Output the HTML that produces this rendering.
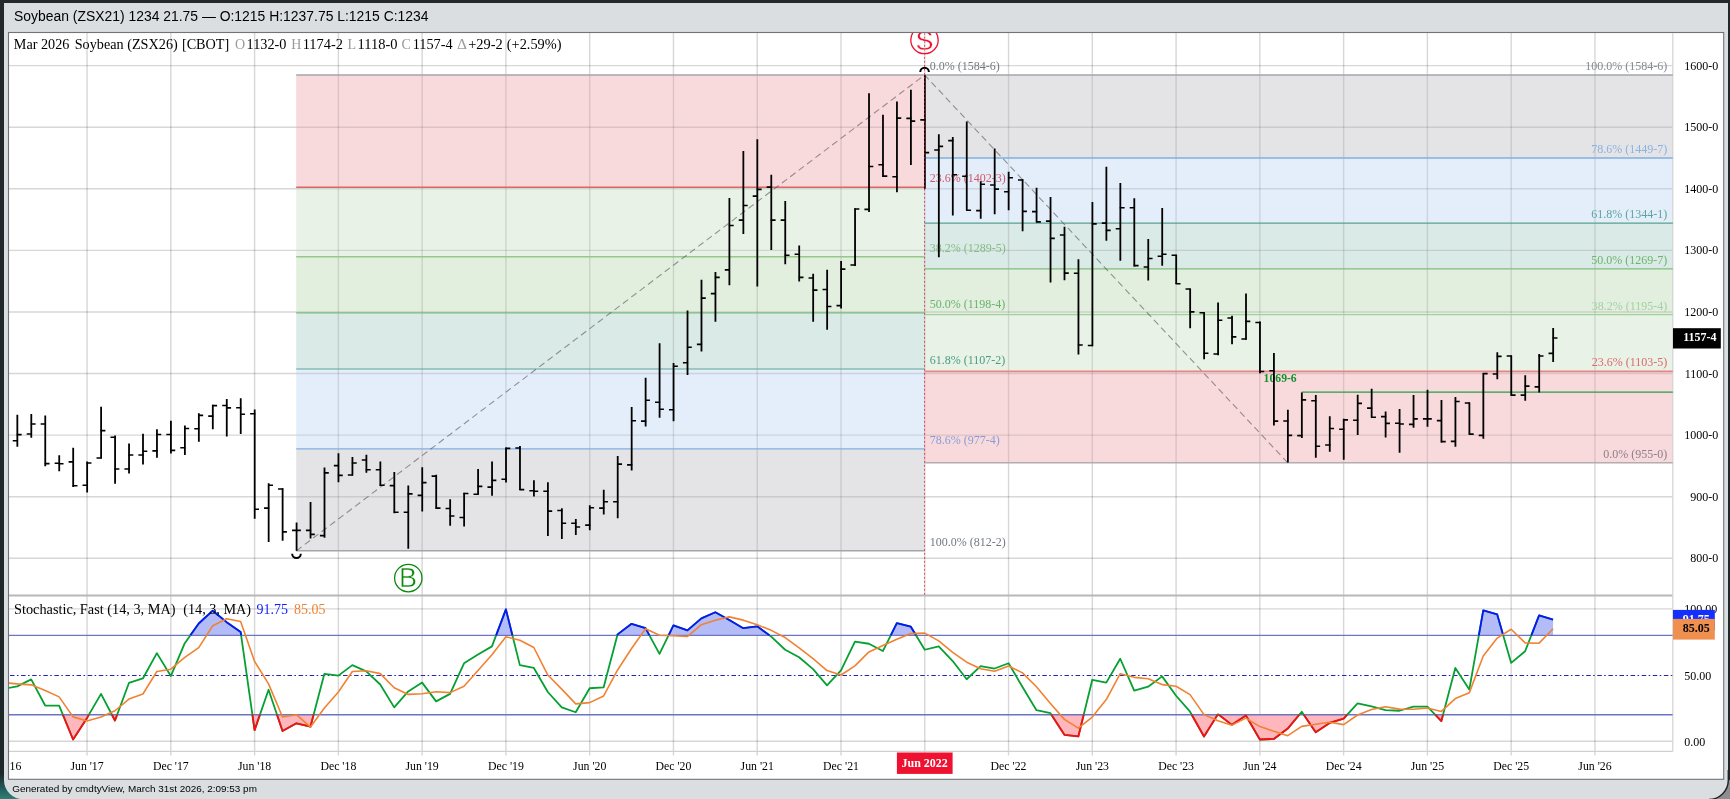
<!DOCTYPE html>
<html lang="en"><head><meta charset="utf-8"><title>Soybean (ZSX26) chart</title>
<style>html,body{margin:0;padding:0;background:#23282b;width:1730px;height:799px;overflow:hidden}</style></head>
<body>
<svg width="1730" height="799" viewBox="0 0 1730 799" style="position:absolute;left:0;top:0;display:block;will-change:transform">
<defs><linearGradient id="lg" x1="0" y1="0" x2="0" y2="1"><stop offset="0" stop-color="#23282b"/><stop offset="0.968" stop-color="#1e2729"/><stop offset="0.988" stop-color="#23605c"/><stop offset="1" stop-color="#2f7f78"/></linearGradient></defs>
<rect x="0" y="0" width="1730" height="799" fill="#23282b"/>
<rect x="0" y="0" width="40" height="799" fill="url(#lg)"/>
<rect x="1700" y="780" width="30" height="19" fill="#8e8e8e"/>
<path d="M4 3 H1728 V780 A19 19 0 0 1 1709 799.2 H23 A19 19 0 0 1 4 780 Z" fill="#dadee1"/>
<path d="M1728.3 770 V780 A19.3 19.3 0 0 1 1709 799.5" fill="none" stroke="#202428" stroke-width="1.4"/>
<rect x="8.5" y="32.5" width="1715.2" height="746.8" fill="#fff" stroke="#707478" stroke-width="1.1"/>
<defs><clipPath id="cp"><rect x="9" y="33" width="1663.8" height="718.3"/></clipPath>
<clipPath id="cpm"><rect x="9" y="33" width="1663.8" height="562.5"/></clipPath>
<clipPath id="cps"><rect x="9" y="596.5" width="1663.8" height="154.8"/></clipPath>
<clipPath id="cpanel"><rect x="9" y="33" width="1714" height="746"/></clipPath></defs>
<g stroke="rgba(8,8,10,0.16)" stroke-width="1.4" fill="none">
<path d="M87.05 33 V755.5"/>
<path d="M170.82 33 V755.5"/>
<path d="M254.59 33 V755.5"/>
<path d="M338.37 33 V755.5"/>
<path d="M422.14 33 V755.5"/>
<path d="M505.91 33 V755.5"/>
<path d="M589.68 33 V755.5"/>
<path d="M673.45 33 V755.5"/>
<path d="M757.23 33 V755.5"/>
<path d="M841 33 V755.5"/>
<path d="M924.77 33 V755.5"/>
<path d="M1008.54 33 V755.5"/>
<path d="M1092.31 33 V755.5"/>
<path d="M1176.09 33 V755.5"/>
<path d="M1259.86 33 V755.5"/>
<path d="M1343.63 33 V755.5"/>
<path d="M1427.4 33 V755.5"/>
<path d="M1511.17 33 V755.5"/>
<path d="M1594.95 33 V755.5"/>
<path d="M9 558.29 H1672.8"/>
<path d="M9 496.7 H1672.8"/>
<path d="M9 435.12 H1672.8"/>
<path d="M9 373.53 H1672.8"/>
<path d="M9 311.94 H1672.8"/>
<path d="M9 250.36 H1672.8"/>
<path d="M9 188.77 H1672.8"/>
<path d="M9 127.19 H1672.8"/>
<path d="M9 65.6 H1672.8"/>
<path d="M9 741.2 H1672.8"/>
<path d="M9 608.85 H1672.8"/>
</g>
<rect x="296.2" y="74.99" width="628.4" height="112.28" fill="#f8dadd"/>
<rect x="296.2" y="187.27" width="628.4" height="69.46" fill="#e8f2e6"/>
<rect x="296.2" y="256.73" width="628.4" height="56.14" fill="#e2eede"/>
<rect x="296.2" y="312.87" width="628.4" height="56.14" fill="#daeae6"/>
<rect x="296.2" y="369.01" width="628.4" height="79.93" fill="#e4eefa"/>
<rect x="296.2" y="448.93" width="628.4" height="101.81" fill="#e4e4e6"/>
<rect x="924.6" y="371.3" width="748.2" height="91.53" fill="#f8dadd"/>
<rect x="924.6" y="314.68" width="748.2" height="56.62" fill="#e8f2e6"/>
<rect x="924.6" y="268.91" width="748.2" height="45.76" fill="#e2eede"/>
<rect x="924.6" y="223.15" width="748.2" height="45.76" fill="#daeae6"/>
<rect x="924.6" y="157.99" width="748.2" height="65.16" fill="#e4eefa"/>
<rect x="924.6" y="74.99" width="748.2" height="83" fill="#e4e4e6"/>
<defs><clipPath id="cz"><rect x="296.2" y="74.99" width="628.4" height="475.75"/><rect x="924.6" y="74.99" width="748.2" height="387.84"/></clipPath></defs>
<g stroke="rgba(8,8,10,0.115)" stroke-width="1.4" fill="none" clip-path="url(#cz)">
<path d="M87.05 33 V755.5"/>
<path d="M170.82 33 V755.5"/>
<path d="M254.59 33 V755.5"/>
<path d="M338.37 33 V755.5"/>
<path d="M422.14 33 V755.5"/>
<path d="M505.91 33 V755.5"/>
<path d="M589.68 33 V755.5"/>
<path d="M673.45 33 V755.5"/>
<path d="M757.23 33 V755.5"/>
<path d="M841 33 V755.5"/>
<path d="M924.77 33 V755.5"/>
<path d="M1008.54 33 V755.5"/>
<path d="M1092.31 33 V755.5"/>
<path d="M1176.09 33 V755.5"/>
<path d="M1259.86 33 V755.5"/>
<path d="M1343.63 33 V755.5"/>
<path d="M1427.4 33 V755.5"/>
<path d="M1511.17 33 V755.5"/>
<path d="M1594.95 33 V755.5"/>
<path d="M9 558.29 H1672.8"/>
<path d="M9 496.7 H1672.8"/>
<path d="M9 435.12 H1672.8"/>
<path d="M9 373.53 H1672.8"/>
<path d="M9 311.94 H1672.8"/>
<path d="M9 250.36 H1672.8"/>
<path d="M9 188.77 H1672.8"/>
<path d="M9 127.19 H1672.8"/>
<path d="M9 65.6 H1672.8"/>
<path d="M9 741.2 H1672.8"/>
<path d="M9 608.85 H1672.8"/>
</g>
<path d="M1672.8 33 V751.3" stroke="#d2d2d4" stroke-width="1.2"/>
<path d="M9 751.3 H1672.8" stroke="#d0d0d2" stroke-width="1.2"/>
<path d="M9 595.5 H1672.3" stroke="#b8b8ba" stroke-width="2"/>
<path d="M296.2 74.99 H924.6" stroke="#a4a4ac" stroke-width="1.5"/>
<path d="M296.2 187.27 H924.6" stroke="#e06464" stroke-width="1.4"/>
<path d="M296.2 256.73 H924.6" stroke="#96c88c" stroke-width="1.3"/>
<path d="M296.2 312.87 H924.6" stroke="#7cba7c" stroke-width="1.4"/>
<path d="M296.2 369.01 H924.6" stroke="#5aa596" stroke-width="1.1"/>
<path d="M296.2 448.93 H924.6" stroke="#82afe1" stroke-width="1.3"/>
<path d="M296.2 550.74 H924.6" stroke="#a4a4ac" stroke-width="1.5"/>
<path d="M924.6 462.83 H1672.8" stroke="#b4acae" stroke-width="1.5"/>
<path d="M924.6 371.3 H1672.8" stroke="#ea8484" stroke-width="1.8"/>
<path d="M924.6 314.68 H1672.8" stroke="#a0d29c" stroke-width="1.3"/>
<path d="M924.6 268.91 H1672.8" stroke="#7dbe7d" stroke-width="1.4"/>
<path d="M924.6 223.15 H1672.8" stroke="#54a08c" stroke-width="1.1"/>
<path d="M924.6 157.99 H1672.8" stroke="#82afe1" stroke-width="1.3"/>
<path d="M924.6 74.99 H1672.8" stroke="#a4a4ac" stroke-width="1.5"/>
<path d="M296.48 550.74 L924.6 74.99 L1287.78 462.83" stroke="rgba(80,80,84,0.58)" stroke-width="1.1" stroke-dasharray="6.5 4" fill="none"/>
<path d="M1301.74 392.16 H1672.8" stroke="#22a044" stroke-width="1.4"/>
<g font-family='"Liberation Serif","Times New Roman",Times,serif' font-size="12">
<text x="929.8" y="69.79" fill="#747a84">0.0% (1584-6)</text>
<text x="929.8" y="182.07" fill="#d05868">23.6% (1402-3)</text>
<text x="929.8" y="251.53" fill="#84bc84">38.2% (1289-5)</text>
<text x="929.8" y="307.67" fill="#6cb26c">50.0% (1198-4)</text>
<text x="929.8" y="363.81" fill="#4a9c84">61.8% (1107-2)</text>
<text x="929.8" y="443.73" fill="#8a9cd6">78.6% (977-4)</text>
<text x="929.8" y="545.54" fill="#747a82">100.0% (812-2)</text>
<text x="1667.3" y="457.63" fill="#8a8088" text-anchor="end">0.0% (955-0)</text>
<text x="1667.3" y="366.1" fill="#dc6a6a" text-anchor="end">23.6% (1103-5)</text>
<text x="1667.3" y="310.48" fill="#a2d2a0" text-anchor="end">38.2% (1195-4)</text>
<text x="1667.3" y="263.71" fill="#6cb46c" text-anchor="end">50.0% (1269-7)</text>
<text x="1667.3" y="217.95" fill="#5aa69a" text-anchor="end">61.8% (1344-1)</text>
<text x="1667.3" y="152.79" fill="#8ab2e2" text-anchor="end">78.6% (1449-7)</text>
<text x="1667.3" y="69.79" fill="#848a92" text-anchor="end">100.0% (1584-6)</text>
</g>
<text x="1263.6" y="382.2" font-family='"Liberation Serif","Times New Roman",Times,serif' font-size="11.7" font-weight="bold" fill="#12922e">1069-6</text>
<g stroke="#000" fill="none" clip-path="url(#cpm)">
<path stroke-width="1.8" d="M17.34 414.8V446.81M31.3 414.05V437.79M45.26 415.55V466.35M59.23 455.22V471.15M73.19 447.86V486.93M87.15 461.54V492.49M101.11 406.83V458.38M115.07 435.54V483.63M129.04 443.5V473.56M143 433.73V464.39M156.96 429.37V457.63M170.92 420.81V453.57M184.88 425.47V454.92M198.85 413.29V441.7M212.81 404.73V429.37M226.77 399.02V436.59M240.73 398.27V433.88M254.69 409.54V518.77M268.66 483.31V542.07M282.62 488.27V540.87M296.58 522.38V550.63M310.54 502.09V538.61M324.5 467.59V537.86M338.47 453.31V482.17M352.43 457.07V475.4M366.39 454.66V472.85M380.35 461.58V485.92M394.31 472.1V513.36M408.28 485.62V548.83M422.24 467.29V511.56M436.2 474.65V508.85M450.16 499.24V525.84M464.12 492.77V526.59M478.09 468.94V494.64M492.05 461.56V495.67M506.01 447.58V482.6M519.97 446.08V490.11M533.93 480.35V496.58M547.9 482.3V535.95M561.86 508.15V538.96M575.82 518.97V534.9M589.78 505.14V530.24M603.74 489.66V514.46M617.71 456V518.22M631.67 407.04V470.46M645.63 377.73V426.58M659.59 343.18V417.86M673.55 363.01V421.17M687.52 310.57V375.03M701.48 279.76V351.44M715.44 272.09V321.69M729.4 197.93V285.32M743.36 151.04V234M757.33 139.32V286.52M771.29 174.63V250M785.25 201.09V264.28M799.21 245.42V281.56M813.17 273.75V321.69M827.14 269.84V329.65M841.1 260.97V308.61M855.06 208.32V265.88M869.02 93.29V211.91M882.98 114.63V177M896.95 101.56V192.24M910.91 89.84V164.98M924.87 75.26V188.79M938.83 134.17V257.17M952.79 136.88V215.39M966.76 121.55V210.58M980.72 181.27V218.84M994.68 148.45V214.33M1008.64 171.8V210.13M1022.6 179.32V231.32M1036.57 187.73V222.3M1050.53 197.05V282.41M1064.49 226.81V280.16M1078.45 259.32V354.45M1092.41 202.08V346.18M1106.38 166.76V240.7M1120.34 182.99V260.69M1134.3 198.32V266.4M1148.26 238.9V280.51M1162.22 208.09V265.65M1176.19 254.81V284.11M1190.15 288.77V328.15M1204.11 312.37V359.26M1218.07 302.6V355.2M1232.03 315.67V344.23M1246 293.58V339.87M1259.96 321.39V373.29M1273.92 353.01V425.59M1287.88 409.66V462.41M1301.84 392.53V437.92M1315.81 395.09V457.75M1329.77 416.13V451.74M1343.73 418.83V459.71M1357.69 394.79V434.91M1371.65 388.77V417.63M1385.62 411.62V437.62M1399.58 408.91V452.65M1413.54 395.09V427.85M1427.5 389.83V426.65M1441.46 400.05V442.43M1455.43 397.04V446.63M1469.39 402.6V434.46M1483.35 373.29V438.67M1497.31 352.15V379.2M1511.27 355.61V395.73M1525.24 375.14V400.69M1539.2 354.1V392.43M1553.16 328.1V362.07"/>
<path stroke-width="1.6" d="M17.94 440.8h-5.2M16.74 434.63h4.9M31.9 434.03h-5.2M30.7 423.96h4.9M45.86 423.96h-5.2M44.66 463.64h4.9M59.83 463.19h-5.2M58.63 463.79h4.9M73.79 461.84h-5.2M72.59 485.73h4.9M87.75 485.28h-5.2M86.55 463.04h4.9M101.71 457.93h-5.2M100.51 430.58h4.9M115.67 437.19h-5.2M114.47 469.05h4.9M129.64 469.05h-5.2M128.44 455.07h4.9M143.6 455.07h-5.2M142.4 451.32h4.9M157.56 450.87h-5.2M156.36 434.48h4.9M171.52 434.48h-5.2M170.32 450.41h4.9M185.48 447.71h-5.2M184.28 428.47h4.9M199.45 428.77h-5.2M198.25 415.4h4.9M213.41 416.15h-5.2M212.21 405.63h4.9M227.37 405.48h-5.2M226.17 407.88h4.9M241.33 407.73h-5.2M240.13 414.2h4.9M255.29 413.75h-5.2M254.09 509.31h4.9M269.26 508.1h-5.2M268.06 485.26h4.9M283.22 489.02h-5.2M282.02 531.85h4.9M297.18 530.35h-5.2M295.98 530.35h4.9M311.14 530.35h-5.2M309.94 534.4h4.9M325.1 535.61h-5.2M323.9 472.85h4.9M339.07 465.63h-5.2M337.87 475.4h4.9M353.03 474.95h-5.2M351.83 462.93h4.9M366.99 460.07h-5.2M365.79 469.69h4.9M380.95 469.69h-5.2M379.75 485.32h4.9M394.91 485.62h-5.2M393.71 512.31h4.9M408.88 512.31h-5.2M407.68 493.83h4.9M422.84 495.39h-5.2M421.64 482.62h4.9M436.8 476.15h-5.2M435.6 508.1h4.9M450.76 508.55h-5.2M449.56 516.07h4.9M464.72 517.57h-5.2M463.52 493.53h4.9M478.69 494.19h-5.2M477.49 486.37h4.9M492.65 487.11h-5.2M491.45 480.35h4.9M506.61 479.29h-5.2M505.41 448.33h4.9M520.57 448.03h-5.2M519.37 489.66h4.9M534.53 490.72h-5.2M533.33 491.32h4.9M548.5 491.32h-5.2M547.3 511.15h4.9M562.46 510.55h-5.2M561.26 523.18h4.9M576.42 523.18h-5.2M575.22 526.93h4.9M590.38 525.13h-5.2M589.18 507.7h4.9M604.34 508.15h-5.2M603.14 501.69h4.9M618.31 501.69h-5.2M617.11 464.11h4.9M632.27 464.9h-5.2M631.07 420.72h4.9M646.23 421.17h-5.2M645.03 400.28h4.9M660.19 402.23h-5.2M658.99 409.29h4.9M674.15 409.74h-5.2M672.95 366.31h4.9M688.12 362.71h-5.2M686.92 347.23h4.9M702.08 344.38h-5.2M700.88 298.09h4.9M716.04 293.58h-5.2M714.84 277.35h4.9M730 269.84h-5.2M728.8 225.43h4.9M743.96 220.17h-5.2M742.76 205.44h4.9M757.93 196.13h-5.2M756.73 189.36h4.9M771.89 187.11h-5.2M770.69 220.17h4.9M785.85 220.17h-5.2M784.65 255.26h4.9M799.81 254.21h-5.2M798.61 277.35h4.9M813.77 277.95h-5.2M812.57 290.13h4.9M827.74 289.53h-5.2M826.54 306.51h4.9M841.7 305.61h-5.2M840.5 269.09h4.9M855.66 264.98h-5.2M854.46 209.07h4.9M869.62 209.35h-5.2M868.42 166.52h4.9M883.58 164.68h-5.2M882.38 176.1h4.9M897.55 176.7h-5.2M896.35 118.09h4.9M911.51 118.39h-5.2M910.31 121.1h4.9M925.47 119.89h-5.2M924.27 152.66h4.9M939.43 149.95h-5.2M938.23 146.35h4.9M953.39 140.63h-5.2M952.19 174.75h4.9M967.36 176.25h-5.2M966.16 210.28h4.9M981.32 210.58h-5.2M980.12 184.28h4.9M995.28 185.03h-5.2M994.08 189.09h4.9M1009.24 191.79h-5.2M1008.04 177.81h4.9M1023.2 180.07h-5.2M1022 211.33h4.9M1037.17 211.63h-5.2M1035.97 221.85h4.9M1051.13 221.1h-5.2M1049.93 238.38h4.9M1065.09 235.07h-5.2M1063.89 273.1h4.9M1079.05 273.29h-5.2M1077.85 344.98h4.9M1093.01 345.43h-5.2M1091.81 223.87h4.9M1106.98 223.12h-5.2M1105.78 230.33h4.9M1120.94 228.68h-5.2M1119.74 207.79h4.9M1134.9 207.79h-5.2M1133.7 265.65h4.9M1148.86 267h-5.2M1147.66 258.44h4.9M1162.82 256.18h-5.2M1161.62 254.23h4.9M1176.79 255.26h-5.2M1175.59 283.81h4.9M1190.75 289.07h-5.2M1189.55 311.92h4.9M1204.71 312.82h-5.2M1203.51 353.25h4.9M1218.67 354h-5.2M1217.47 320.18h4.9M1232.63 317.93h-5.2M1231.43 336.87h4.9M1246.6 338.97h-5.2M1245.4 321.39h4.9M1260.56 322.44h-5.2M1259.36 371.49h4.9M1274.52 370.74h-5.2M1273.32 421.09h4.9M1288.48 420.93h-5.2M1287.28 435.36h4.9M1302.44 435.66h-5.2M1301.24 399.89h4.9M1316.41 400.8h-5.2M1315.21 446.18h4.9M1330.37 444.98h-5.2M1329.17 428.45h4.9M1344.33 429.2h-5.2M1343.13 419.88h4.9M1358.29 420.18h-5.2M1357.09 403.35h4.9M1372.25 408.16h-5.2M1371.05 417.18h4.9M1386.22 416.58h-5.2M1385.02 423.34h4.9M1400.18 423.19h-5.2M1398.98 423.94h4.9M1414.14 424.39h-5.2M1412.94 418.83h4.9M1428.1 418.83h-5.2M1426.9 418.83h4.9M1442.06 420.63h-5.2M1440.86 441.67h4.9M1456.03 441.37h-5.2M1454.83 401.55h4.9M1469.99 403.05h-5.2M1468.79 434.16h4.9M1483.95 435.36h-5.2M1482.75 373.59h4.9M1497.91 373.94h-5.2M1496.71 356.36h4.9M1511.87 356.06h-5.2M1510.67 395.13h4.9M1525.84 395.13h-5.2M1524.64 386.11h4.9M1539.8 386.87h-5.2M1538.6 356.06h4.9M1553.76 353.35h-5.2M1552.56 338.02h4.9"/>
</g>
<path d="M924.55 33 V595" stroke="#f01030" stroke-width="1" stroke-dasharray="1.6 2.4" stroke-opacity="0.8"/>
<path d="M920.27 71.99 a4.3 4.3 0 0 1 8.6 0" stroke="#000" stroke-width="2" fill="none"/>
<path d="M292.18 553.74 a4.3 4.3 0 0 0 8.6 0" stroke="#000" stroke-width="2" fill="none"/>
<g clip-path="url(#cpanel)"><circle cx="924.5" cy="40" r="13.7" fill="none" stroke="#f01030" stroke-width="1.3"/>
<text x="924.5" y="50.3" font-family='"Liberation Sans",Arial,Helvetica,sans-serif' font-size="27" fill="#f01030" stroke="#fff" stroke-width="0.4" text-anchor="middle">S</text></g>
<circle cx="408.3" cy="578.1" r="13.7" fill="none" stroke="#0a8a0a" stroke-width="1.3"/>
<text x="408" y="586.9" font-family='"Liberation Sans",Arial,Helvetica,sans-serif' font-size="27" fill="#0a8a0a" stroke="#fff" stroke-width="0.45" text-anchor="middle">B</text>
<g clip-path="url(#cps)">
<polygon points="190.35,635.32 198.75,623.47 212.71,610.7 226.67,622.15 240.63,631.91 241.12,635.32 241.12,635.32 190.35,635.32" fill="#b4bcf8"/>
<polygon points="496.12,635.32 505.91,609.39 512.4,635.32 512.4,635.32 496.12,635.32" fill="#b4bcf8"/>
<polygon points="617.35,635.32 617.61,634.35 631.57,623.84 645.53,628.16 649.42,635.32 649.42,635.32 617.35,635.32" fill="#b4bcf8"/>
<polygon points="668.57,635.32 673.45,625.34 687.42,630.41 701.38,618.4 715.34,612.2 729.3,620.09 743.26,628.16 757.23,626.28 769.45,635.32 769.45,635.32 668.57,635.32" fill="#b4bcf8"/>
<polygon points="890.74,635.32 896.85,623.09 910.81,626.66 916.05,635.32 916.05,635.32 890.74,635.32" fill="#b4bcf8"/>
<polygon points="1478.84,635.32 1483.25,610.32 1497.21,614.45 1503.23,635.32 1503.23,635.32 1478.84,635.32" fill="#b4bcf8"/>
<polygon points="1531.34,635.32 1539.1,615.39 1553.06,619.71 1553.06,635.32 1531.34,635.32" fill="#b4bcf8"/>
<polygon points="62.86,714.73 73.09,739.48 87.05,717.89 88.89,714.73 88.89,714.73 62.86,714.73" fill="#ffb6bc"/>
<polygon points="111.94,714.73 114.97,720.52 117.13,714.73 117.13,714.73 111.94,714.73" fill="#ffb6bc"/>
<polygon points="252.41,714.73 254.59,730.09 259.91,714.73 259.91,714.73 252.41,714.73" fill="#ffb6bc"/>
<polygon points="277.01,714.73 282.52,731.03 296.48,723.33 310.44,726.71 313.6,714.73 313.6,714.73 277.01,714.73" fill="#ffb6bc"/>
<polygon points="1051.42,714.73 1064.39,734.79 1078.35,736.47 1083.71,714.73 1083.71,714.73 1051.42,714.73" fill="#ffb6bc"/>
<polygon points="1191.76,714.73 1204.01,736.47 1217.6,714.73 1217.6,714.73 1191.76,714.73" fill="#ffb6bc"/>
<polygon points="1218.75,714.73 1231.93,724.84 1245.9,715.45 1259.86,739.48 1273.82,738.91 1287.78,728.59 1299.24,714.73 1299.24,714.73 1218.75,714.73" fill="#ffb6bc"/>
<polygon points="1303.8,714.73 1315.71,732.34 1329.67,722.96 1343.63,718.64 1347.22,714.73 1347.22,714.73 1303.8,714.73" fill="#ffb6bc"/>
<polygon points="1435.23,714.73 1441.36,721.08 1443.03,714.73 1443.03,714.73 1435.23,714.73" fill="#ffb6bc"/>
<path d="M9 635.32 H1672.8 M9 714.73 H1672.8" stroke="#6c74c4" stroke-width="1.3"/>
<path d="M9 675.5 H1672.8" stroke="#2424ac" stroke-width="1" stroke-dasharray="4.5 2.4 1.6 2.6" stroke-dashoffset="-1"/>
<polyline points="-10.68,676.59 3.28,688.79 17.24,686.35 31.2,679.41 45.16,705.5 59.13,705.69 73.09,739.48 87.05,717.89 101.01,693.86 114.97,720.52 128.94,682.97 142.9,678.47 156.86,653.13 170.82,676.03 184.78,643.18 198.75,623.47 212.71,610.7 226.67,622.15 240.63,631.91 254.59,730.09 268.56,689.73 282.52,731.03 296.48,723.33 310.44,726.71 324.4,673.78 338.37,675.65 352.33,665.14 366.29,671.33 380.25,684.48 394.21,707.38 408.18,691.42 422.14,682.6 436.1,701.37 450.06,693.86 464.02,663.26 477.99,654.44 491.95,646.37 505.91,609.39 519.87,665.14 533.83,667.96 547.8,691.98 561.76,707.38 575.72,712.26 589.68,688.23 603.64,687.29 617.61,634.35 631.57,623.84 645.53,628.16 659.49,653.88 673.45,625.34 687.42,630.41 701.38,618.4 715.34,612.2 729.3,620.09 743.26,628.16 757.23,626.28 771.19,636.61 785.15,649.75 799.11,657.26 813.07,669.08 827.04,685.41 841,670.4 854.96,641.67 868.92,643.74 882.88,651.06 896.85,623.09 910.81,626.66 924.77,649.75 938.73,646.37 952.69,661.01 966.66,679.22 980.62,666.08 994.58,668.52 1008.54,663.26 1022.5,686.92 1036.47,710.19 1050.43,713.2 1064.39,734.79 1078.35,736.47 1092.31,679.78 1106.28,682.6 1120.24,658.76 1134.2,690.67 1148.16,686.73 1162.12,676.4 1176.09,695.74 1190.05,711.7 1204.01,736.47 1217.97,714.14 1231.93,724.84 1245.9,715.45 1259.86,739.48 1273.82,738.91 1287.78,728.59 1301.74,711.7 1315.71,732.34 1329.67,722.96 1343.63,718.64 1357.59,703.44 1371.55,706.44 1385.52,710.19 1399.48,710.76 1413.44,706.63 1427.4,706.63 1441.36,721.08 1455.33,667.96 1469.29,689.54 1483.25,610.32 1497.21,614.45 1511.17,662.89 1525.14,651.25 1539.1,615.39 1553.06,619.71" fill="none" stroke="#06a032" stroke-width="1.8" stroke-linejoin="round"/>
<polyline points="190.35,635.32 198.75,623.47 212.71,610.7 226.67,622.15 240.63,631.91 241.12,635.32" fill="none" stroke="#0a14ff" stroke-width="1.8" stroke-linejoin="round"/>
<polyline points="496.12,635.32 505.91,609.39 512.4,635.32" fill="none" stroke="#0a14ff" stroke-width="1.8" stroke-linejoin="round"/>
<polyline points="617.35,635.32 617.61,634.35 631.57,623.84 645.53,628.16 649.42,635.32" fill="none" stroke="#0a14ff" stroke-width="1.8" stroke-linejoin="round"/>
<polyline points="668.57,635.32 673.45,625.34 687.42,630.41 701.38,618.4 715.34,612.2 729.3,620.09 743.26,628.16 757.23,626.28 769.45,635.32" fill="none" stroke="#0a14ff" stroke-width="1.8" stroke-linejoin="round"/>
<polyline points="890.74,635.32 896.85,623.09 910.81,626.66 916.05,635.32" fill="none" stroke="#0a14ff" stroke-width="1.8" stroke-linejoin="round"/>
<polyline points="1478.84,635.32 1483.25,610.32 1497.21,614.45 1503.23,635.32" fill="none" stroke="#0a14ff" stroke-width="1.8" stroke-linejoin="round"/>
<polyline points="1531.34,635.32 1539.1,615.39 1553.06,619.71" fill="none" stroke="#0a14ff" stroke-width="1.8" stroke-linejoin="round"/>
<polyline points="62.86,714.73 73.09,739.48 87.05,717.89 88.89,714.73" fill="none" stroke="#ff0a14" stroke-width="1.8" stroke-linejoin="round"/>
<polyline points="111.94,714.73 114.97,720.52 117.13,714.73" fill="none" stroke="#ff0a14" stroke-width="1.8" stroke-linejoin="round"/>
<polyline points="252.41,714.73 254.59,730.09 259.91,714.73" fill="none" stroke="#ff0a14" stroke-width="1.8" stroke-linejoin="round"/>
<polyline points="277.01,714.73 282.52,731.03 296.48,723.33 310.44,726.71 313.6,714.73" fill="none" stroke="#ff0a14" stroke-width="1.8" stroke-linejoin="round"/>
<polyline points="1051.42,714.73 1064.39,734.79 1078.35,736.47 1083.71,714.73" fill="none" stroke="#ff0a14" stroke-width="1.8" stroke-linejoin="round"/>
<polyline points="1191.76,714.73 1204.01,736.47 1217.6,714.73" fill="none" stroke="#ff0a14" stroke-width="1.8" stroke-linejoin="round"/>
<polyline points="1218.75,714.73 1231.93,724.84 1245.9,715.45 1259.86,739.48 1273.82,738.91 1287.78,728.59 1299.24,714.73" fill="none" stroke="#ff0a14" stroke-width="1.8" stroke-linejoin="round"/>
<polyline points="1303.8,714.73 1315.71,732.34 1329.67,722.96 1343.63,718.64 1347.22,714.73" fill="none" stroke="#ff0a14" stroke-width="1.8" stroke-linejoin="round"/>
<polyline points="1435.23,714.73 1441.36,721.08 1443.03,714.73" fill="none" stroke="#ff0a14" stroke-width="1.8" stroke-linejoin="round"/>
<polyline points="-10.68,682.22 3.28,682.6 17.24,683.91 31.2,684.85 45.16,690.42 59.13,696.87 73.09,716.89 87.05,721.02 101.01,717.08 114.97,710.76 128.94,699.12 142.9,693.99 156.86,671.52 170.82,669.21 184.78,657.44 198.75,647.56 212.71,625.78 226.67,618.77 240.63,621.59 254.59,661.39 268.56,683.91 282.52,716.95 296.48,714.7 310.44,727.03 324.4,707.94 338.37,692.05 352.33,671.52 366.29,670.71 380.25,673.65 394.21,687.73 408.18,694.42 422.14,693.8 436.1,691.8 450.06,692.61 464.02,686.16 477.99,670.52 491.95,654.69 505.91,636.73 519.87,640.3 533.83,647.49 547.8,675.03 561.76,689.11 575.72,703.87 589.68,702.62 603.64,695.93 617.61,669.96 631.57,648.5 645.53,628.78 659.49,635.29 673.45,635.79 687.42,636.54 701.38,624.72 715.34,620.34 729.3,616.9 743.26,620.15 757.23,624.84 771.19,630.35 785.15,637.54 799.11,647.87 813.07,658.69 827.04,670.58 841,674.96 854.96,665.83 868.92,651.94 882.88,645.49 896.85,639.3 910.81,633.6 924.77,633.16 938.73,640.92 952.69,652.37 966.66,662.2 980.62,668.77 994.58,671.27 1008.54,665.95 1022.5,672.9 1036.47,686.79 1050.43,703.44 1064.39,719.39 1078.35,728.15 1092.31,717.01 1106.28,699.62 1120.24,673.71 1134.2,677.34 1148.16,678.72 1162.12,684.6 1176.09,686.29 1190.05,694.61 1204.01,714.64 1217.97,720.77 1231.93,725.15 1245.9,718.14 1259.86,726.59 1273.82,731.28 1287.78,735.66 1301.74,726.4 1315.71,724.21 1329.67,722.33 1343.63,724.65 1357.59,715.01 1371.55,709.51 1385.52,706.69 1399.48,709.13 1413.44,709.19 1427.4,708 1441.36,711.44 1455.33,698.55 1469.29,692.86 1483.25,655.94 1497.21,638.11 1511.17,629.22 1525.14,642.86 1539.1,643.18 1553.06,628.78" fill="none" stroke="#f08232" stroke-width="1.6" stroke-linejoin="round"/>
</g>
<g font-family='"Liberation Serif","Times New Roman",Times,serif' font-size="12" fill="#000" text-anchor="end">
<text x="1718.3" y="562.29">800-0</text>
<text x="1718.3" y="500.7">900-0</text>
<text x="1718.3" y="439.12">1000-0</text>
<text x="1718.3" y="377.53">1100-0</text>
<text x="1718.3" y="315.94">1200-0</text>
<text x="1718.3" y="254.36">1300-0</text>
<text x="1718.3" y="192.77">1400-0</text>
<text x="1718.3" y="131.19">1500-0</text>
<text x="1718.3" y="69.6">1600-0</text>
<text x="1684.3" y="612.95" text-anchor="start">100.00</text>
<text x="1684.3" y="679.63" text-anchor="start">50.00</text>
<text x="1684.3" y="745.5" text-anchor="start">0.00</text>
</g>
<rect x="1673" y="328.2" width="47.8" height="20.3" fill="#000"/>
<text x="1716.6" y="340.7" font-family='"Liberation Serif","Times New Roman",Times,serif' font-size="12" font-weight="bold" fill="#fff" text-anchor="end">1157-4</text>
<rect x="1673" y="609.9" width="41.8" height="20.6" fill="#1430ff"/>
<text x="1709.8" y="623.3" font-family='"Liberation Serif","Times New Roman",Times,serif' font-size="12" font-weight="bold" fill="#fff" text-anchor="end">91.75</text>
<rect x="1673" y="618.9" width="41.8" height="20.7" fill="#f09050"/>
<text x="1709.8" y="632.1" font-family='"Liberation Serif","Times New Roman",Times,serif' font-size="12" font-weight="bold" fill="#000" text-anchor="end">85.05</text>
<g font-family='"Liberation Serif","Times New Roman",Times,serif' font-size="11.8" fill="#000" text-anchor="middle" clip-path="url(#cpanel)">
<text x="9.6" y="769.8" text-anchor="start">16</text>
<text x="87.05" y="769.8">Jun '17</text>
<text x="170.82" y="769.8">Dec '17</text>
<text x="254.59" y="769.8">Jun '18</text>
<text x="338.37" y="769.8">Dec '18</text>
<text x="422.14" y="769.8">Jun '19</text>
<text x="505.91" y="769.8">Dec '19</text>
<text x="589.68" y="769.8">Jun '20</text>
<text x="673.45" y="769.8">Dec '20</text>
<text x="757.23" y="769.8">Jun '21</text>
<text x="841" y="769.8">Dec '21</text>
<text x="1008.54" y="769.8">Dec '22</text>
<text x="1092.31" y="769.8">Jun '23</text>
<text x="1176.09" y="769.8">Dec '23</text>
<text x="1259.86" y="769.8">Jun '24</text>
<text x="1343.63" y="769.8">Dec '24</text>
<text x="1427.4" y="769.8">Jun '25</text>
<text x="1511.17" y="769.8">Dec '25</text>
<text x="1594.95" y="769.8">Jun '26</text>
</g>
<rect x="896.9" y="752.5" width="55.7" height="21.4" fill="#ee1230"/>
<text x="924.7" y="766.5" font-family='"Liberation Serif","Times New Roman",Times,serif' font-size="12" font-weight="bold" fill="#fff" text-anchor="middle">Jun 2022</text>
<text x="14" y="21.3" font-family='"Liberation Sans",Arial,Helvetica,sans-serif' font-size="14" textLength="414.5" lengthAdjust="spacingAndGlyphs" fill="#000">Soybean (ZSX21) 1234 21.75 — O:1215 H:1237.75 L:1215 C:1234</text>
<text y="48.6" font-family='"Liberation Serif","Times New Roman",Times,serif' font-size="14"><tspan x="13.8" fill="#000" textLength="55.6" lengthAdjust="spacingAndGlyphs">Mar 2026</tspan><tspan x="74.7" fill="#000" textLength="48.9" lengthAdjust="spacingAndGlyphs">Soybean</tspan><tspan x="127.2" fill="#000" textLength="50.6" lengthAdjust="spacingAndGlyphs">(ZSX26)</tspan><tspan x="181.9" fill="#000" textLength="47.4" lengthAdjust="spacingAndGlyphs">[CBOT]</tspan><tspan x="235" fill="#9a9a9a">O</tspan><tspan x="246.6" fill="#000" textLength="39.9" lengthAdjust="spacingAndGlyphs">1132-0</tspan><tspan x="291.2" fill="#9a9a9a">H</tspan><tspan x="302.7" fill="#000" textLength="40.2" lengthAdjust="spacingAndGlyphs">1174-2</tspan><tspan x="347.5" fill="#9a9a9a">L</tspan><tspan x="357.6" fill="#000" textLength="39.9" lengthAdjust="spacingAndGlyphs">1118-0</tspan><tspan x="401.6" fill="#9a9a9a">C</tspan><tspan x="412.7" fill="#000" textLength="39.9" lengthAdjust="spacingAndGlyphs">1157-4</tspan><tspan x="457" fill="#9a9a9a" textLength="10" lengthAdjust="spacingAndGlyphs">Δ</tspan><tspan x="468.2" fill="#000" textLength="34.5" lengthAdjust="spacingAndGlyphs">+29-2</tspan><tspan x="506.8" fill="#000" textLength="54.7" lengthAdjust="spacingAndGlyphs">(+2.59%)</tspan></text>
<text y="613.9" font-family='"Liberation Serif","Times New Roman",Times,serif' font-size="14"><tspan x="14" fill="#000" textLength="161.5" lengthAdjust="spacingAndGlyphs">Stochastic, Fast (14, 3, MA)</tspan><tspan x="183.2" fill="#000" textLength="67.9" lengthAdjust="spacingAndGlyphs">(14, 3, MA)</tspan><tspan x="256.6" fill="#0c1cff">91.75</tspan><tspan x="293.9" fill="#f08232">85.05</tspan></text>
<text x="12.3" y="791.5" font-family='"Liberation Sans",Arial,Helvetica,sans-serif' font-size="9.3" textLength="244.6" lengthAdjust="spacingAndGlyphs" fill="#000">Generated by cmdtyView, March 31st 2026, 2:09:53 pm</text>
</svg>
</body></html>
